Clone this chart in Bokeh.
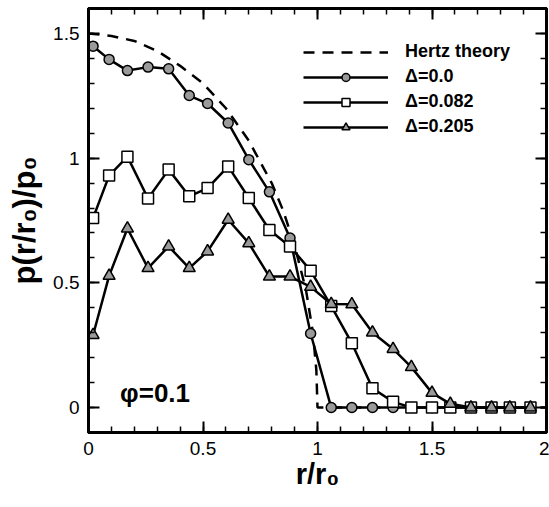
from bokeh.plotting import figure
from bokeh.models import (FixedTicker, LinearAxis, Range1d, Label, Legend,
                          LegendItem, CustomJSTickFormatter)
from bokeh.embed import file_html
from bokeh.resources import INLINE

# ---- data ----
r = [0.02, 0.09, 0.17, 0.26, 0.35, 0.44, 0.52, 0.61, 0.70, 0.79, 0.88, 0.97,
     1.06, 1.15, 1.24, 1.33, 1.41, 1.50, 1.58, 1.67, 1.76, 1.84, 1.93]
p_d0 = [1.449, 1.396, 1.351, 1.365, 1.358, 1.251, 1.219, 1.141, 0.994, 0.865,
        0.680, 0.297, 0.0, 0.0, 0.0, 0.0, 0.0, 0.0, 0.0, 0.0, 0.0, 0.0, 0.0]
p_d082 = [0.760, 0.930, 1.006, 0.838, 0.954, 0.847, 0.880, 0.967, 0.840, 0.712,
          0.646, 0.549, 0.407, 0.258, 0.077, 0.023, 0.0, 0.0, 0.0, 0.0, 0.0, 0.0, 0.0]
p_d205 = [0.291, 0.528, 0.718, 0.559, 0.646, 0.559, 0.626, 0.753, 0.659, 0.525,
          0.525, 0.484, 0.415, 0.414, 0.301, 0.235, 0.162, 0.059, 0.015, 0.0, 0.0, 0.0, 0.0]
hertz_r = [0.0, 0.1, 0.2, 0.3, 0.4, 0.5, 0.6, 0.7, 0.8, 0.85, 0.9, 0.95, 0.98, 0.995, 1.0, 2.0]
hertz_p = [1.50, 1.49, 1.47, 1.43, 1.37, 1.30, 1.20, 1.07, 0.90, 0.79, 0.65, 0.47, 0.30, 0.15, 0.0, 0.0]

series_names = ["Hertz theory", "\u0394=0.0", "\u0394=0.082", "\u0394=0.205"]
x_ticks = [0, 0.5, 1, 1.5, 2]
x_tick_labels = ["0", "0.5", "1", "1.5", "2"]
y_ticks = [0, 0.5, 1, 1.5]
y_tick_labels = ["0", "0.5", "1", "1.5"]
x_minor = [i / 10 for i in range(0, 21)]
y_minor = [i / 10 for i in range(-1, 17)]
annotation_text = "\u03c6=0.1"
x_title = "r/r\u2080"
y_title = "p(r/r\u2080)/p\u2080"

FONT = "Liberation Sans"

p = figure(width=549, height=507, x_range=Range1d(0, 2), y_range=Range1d(-0.1, 1.6),
           output_backend="svg", toolbar_location=None,
           min_border_left=88, min_border_right=3, min_border_top=8, min_border_bottom=75)
p.grid.visible = False
p.outline_line_color = "black"
p.outline_line_width = 3
p.background_fill_color = "white"
p.border_fill_color = "white"

xt = FixedTicker(ticks=x_ticks, minor_ticks=x_minor)
yt = FixedTicker(ticks=y_ticks, minor_ticks=y_minor)


def style_axis(ax):
    ax.axis_line_width = 3
    ax.axis_line_color = "black"
    ax.major_tick_in = 11
    ax.major_tick_out = 0
    ax.minor_tick_in = 6
    ax.minor_tick_out = 0
    ax.major_tick_line_width = 2
    ax.minor_tick_line_width = 1.5
    ax.major_tick_line_color = "black"
    ax.minor_tick_line_color = "black"


xa = p.xaxis[0]
xa.ticker = xt
xa.major_label_overrides = {float(t): l for t, l in zip(x_ticks, x_tick_labels)}
ya = p.yaxis[0]
ya.ticker = yt
ya.major_label_overrides = {float(t): l for t, l in zip(y_ticks, y_tick_labels)}
for ax in (xa, ya):
    style_axis(ax)
    ax.major_label_text_font = FONT
    ax.major_label_text_font_size = "19px"
    ax.major_label_text_color = "black"
    ax.major_label_standoff = 9
    ax.axis_label_text_font = FONT
    ax.axis_label_text_font_style = "bold"
    ax.axis_label_text_color = "black"
xa.axis_label = x_title
xa.axis_label_text_font_size = "29px"
xa.axis_label_standoff = 0
ya.axis_label = y_title
ya.axis_label_text_font_size = "31px"
ya.axis_label_standoff = 8

empty = CustomJSTickFormatter(code="return ''")
ra = LinearAxis(ticker=yt, formatter=empty, major_label_text_font_size="0px",
                major_label_standoff=0)
ta = LinearAxis(ticker=xt, formatter=empty, major_label_text_font_size="0px",
                major_label_standoff=0)
style_axis(ra)
style_axis(ta)
p.add_layout(ra, "right")
p.add_layout(ta, "above")

# Hertz theory
h = p.line(hertz_r, hertz_p, line_color="black", line_width=2.5, line_dash="11 8")

# Delta = 0.0
l0 = p.line(r, p_d0, line_color="black", line_width=2.5)
s0 = p.scatter(r, p_d0, marker="circle", size=10, fill_color="#9a9a9a",
               line_color="black", line_width=1.5)
# Delta = 0.082
l1 = p.line(r, p_d082, line_color="black", line_width=2.5)
s1 = p.scatter(r, p_d082, marker="square", size=11, fill_color="white",
               line_color="black", line_width=1.5)
# Delta = 0.205
l2 = p.line(r, p_d205, line_color="black", line_width=2.5)
s2 = p.scatter(r, p_d205, marker="triangle", size=12, fill_color="#9a9a9a",
               line_color="black", line_width=1.5)

legend = Legend(items=[
    LegendItem(label=series_names[0], renderers=[h]),
    LegendItem(label=series_names[1], renderers=[l0, s0]),
    LegendItem(label=series_names[2], renderers=[l1, s1]),
    LegendItem(label=series_names[3], renderers=[l2, s2]),
], location=(215, 295))
legend.background_fill_alpha = 0
legend.border_line_color = None
legend.glyph_width = 85
legend.glyph_height = 20
legend.label_height = 20
legend.spacing = 4
legend.padding = 0
legend.margin = 0
legend.label_standoff = 17
legend.label_text_font = FONT
legend.label_text_font_style = "bold"
legend.label_text_font_size = "18px"
legend.label_text_color = "black"
p.add_layout(legend)

p.add_layout(Label(x=0.138, y=0.06, text=annotation_text, text_font=FONT,
                   text_font_style="bold", text_font_size="26px",
                   text_color="black", text_baseline="alphabetic"))

open("out.html", "w").write(file_html(p, INLINE))
